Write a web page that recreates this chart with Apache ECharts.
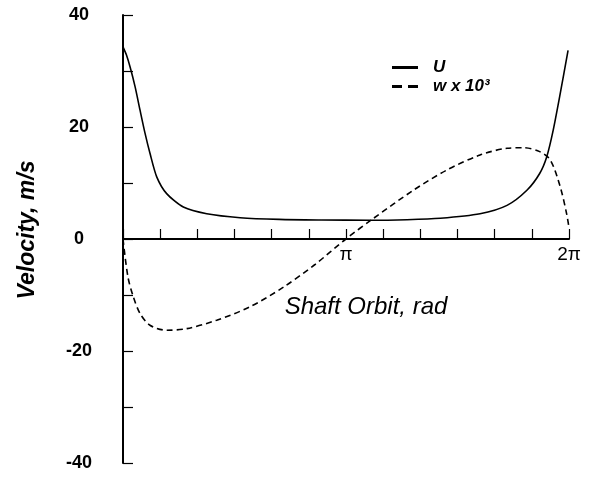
<!DOCTYPE html>
<html><head><meta charset="utf-8">
<script src="https://cdn.jsdelivr.net/npm/echarts@6/dist/echarts.min.js"></script>
<style>html,body{margin:0;padding:0;background:#fff}#c{width:590px;height:482px}</style>
</head><body><div id="c"></div>
<script>
// Shaft orbit angle (rad) and velocities (m/s)
var uOrbit = [0, 0.05, 0.10, 0.17, 0.24, 0.31, 0.38, 0.475, 0.615, 0.85, 1.18, 1.65, 2.2, 2.8, 3.48, 4.0, 4.47, 5.03, 5.41, 5.69, 5.87, 5.97, 6.06, 6.16, 6.27];
var uVel   = [34.3, 32.8, 30.7, 27.2, 23.0, 18.9, 15.3, 11.1, 8.1, 5.7, 4.5, 3.8, 3.5, 3.4, 3.35, 3.45, 3.7, 4.5, 6.0, 8.7, 11.7, 14.7, 19.4, 26.0, 33.7];
var wOrbit = [0, 0.07, 0.145, 0.24, 0.38, 0.615, 0.9, 1.32, 1.79, 2.26, 2.7, 3.14, 3.53, 4.09, 4.56, 5.03, 5.41, 5.64, 5.87, 6.02, 6.16, 6.25, 6.283];
var wVel   = [0, -6.8, -10.3, -13.3, -15.4, -16.3, -16.0, -14.5, -12.1, -8.6, -4.6, 0, 3.7, 8.7, 12.3, 15.0, 16.2, 16.3, 15.6, 14.1, 9.3, 4.5, 2.0];
var seriesNames = ['U', 'w x 10\u00b3'];
var xTickLabels = {180: '\u03c0', 360: '2\u03c0'};
var yLabelValues = [-40, -20, 0, 20, 40];

function toDeg(r){ return r * 180 / Math.PI; }
function pairs(xs, ys){ return xs.map(function(x,i){ return [toDeg(x), ys[i]]; }); }

var font = 'Liberation Sans';
var chart = echarts.init(document.getElementById('c'));
chart.setOption({
  animation: false,
  backgroundColor: '#fff',
  grid: {left: 123, right: 21, top: 15, bottom: 19, containLabel: false, outerBoundsMode: 'none'},
  legend: {
    orient: 'vertical', left: 387, top: 54, itemWidth: 26, itemHeight: 14, itemGap: 2,
    textStyle: {fontFamily: font, fontWeight: 'bold', fontStyle: 'italic', fontSize: 17, color: '#000', padding: [0,0,0,10]},
    data: [
      {name: seriesNames[0], icon: 'path://M0,0h26v3H0z', itemStyle: {color: '#000'}},
      {name: seriesNames[1], icon: 'path://M0,0h10v3H0zM16,0h10v3H16z', itemStyle: {color: '#000'}}
    ]
  },
  xAxis: {
    type: 'value', min: 0, max: 360, interval: 30,
    position: 'bottom', offset: -224,
    name: 'Shaft Orbit, rad', nameLocation: 'middle', nameGap: 56,
    nameTextStyle: {fontFamily: font, fontStyle: 'italic', fontSize: 24, color: '#000', padding: [0,0,0,40]},
    axisLine: {onZero: false, lineStyle: {color: '#000', width: 2}},
    axisTick: {inside: true, length: 10, lineStyle: {color: '#000', width: 1.2}},
    axisLabel: {margin: 6, fontFamily: font, fontSize: 19, color: '#000',
      formatter: function(v){ return xTickLabels[Math.round(v)] || ''; }},
    splitLine: {show: false}
  },
  yAxis: {
    type: 'value', min: -40, max: 40, interval: 10,
    name: 'Velocity, m/s', nameLocation: 'middle', nameGap: 84, nameRotate: 90,
    nameTextStyle: {fontFamily: font, fontStyle: 'italic', fontWeight: 'bold', fontSize: 23, color: '#000', padding: [0,0,0,18]},
    axisLine: {lineStyle: {color: '#000', width: 2}},
    axisTick: {inside: true, length: 10, lineStyle: {color: '#000', width: 1.2}},
    axisLabel: {margin: 44, align: 'center', fontFamily: font, fontWeight: 'bold', fontSize: 18, color: '#000',
      formatter: function(v){ return yLabelValues.indexOf(v) >= 0 ? String(v) : ''; }},
    splitLine: {show: false}
  },
  series: [
    {name: seriesNames[0], type: 'line', smooth: 0.25, symbol: 'none', data: pairs(uOrbit, uVel),
     lineStyle: {color: '#000', width: 1.6, type: 'solid'}, itemStyle: {color: '#000'}},
    {name: seriesNames[1], type: 'line', smooth: 0.3, symbol: 'none', data: pairs(wOrbit, wVel),
     lineStyle: {color: '#000', width: 1.6, type: [6, 4]}, itemStyle: {color: '#000'}}
  ]
});
</script></body></html>
